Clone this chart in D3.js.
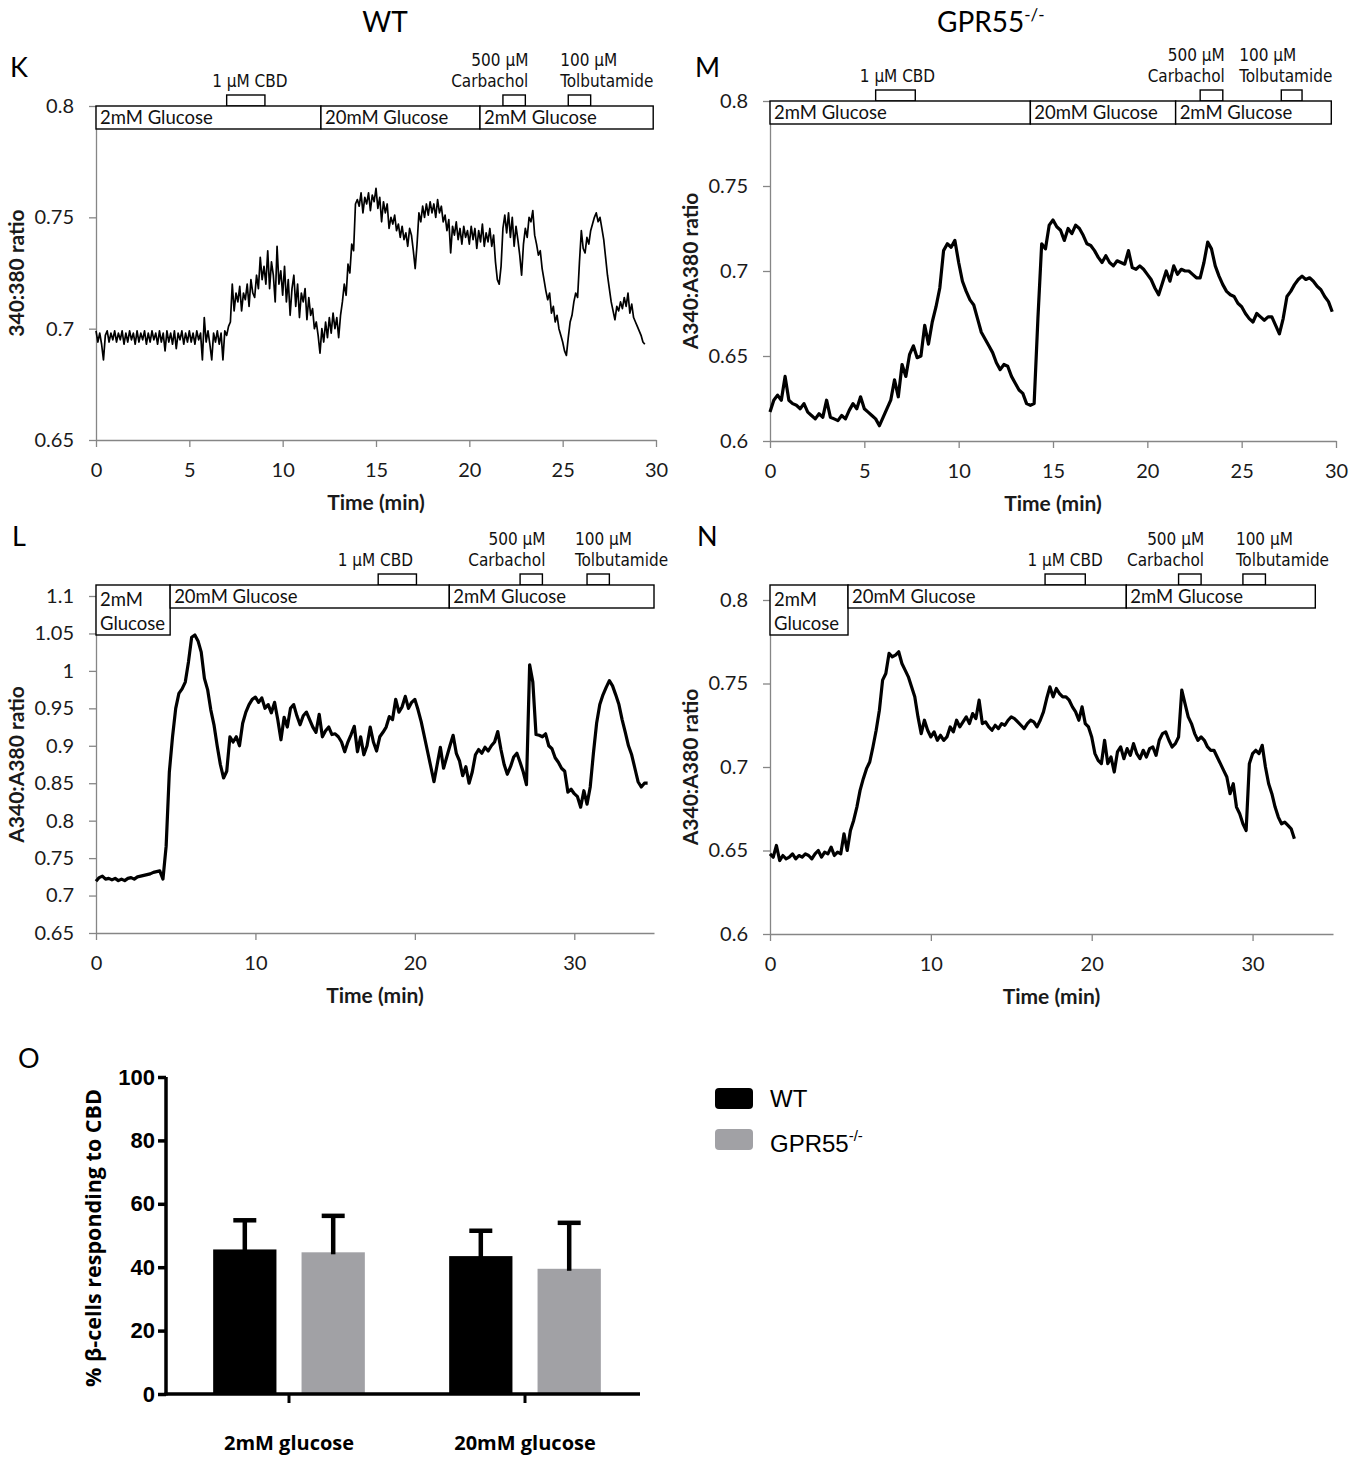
<!DOCTYPE html>
<html><head><meta charset="utf-8">
<script src="https://cdn.jsdelivr.net/npm/d3@7"></script>
<style>body{margin:0;background:#fff;}svg{display:block;}</style>
</head><body>
<svg id="chart" width="1365" height="1459"></svg>
<script>
// ---------------- DATA ----------------
// Panel K (WT, 2mM start) sampled every 0.1 min
const kStep = 0.1;
const kRatio = [
0.699,0.694,0.698,0.693,0.686,0.697,0.699,0.694,0.698,0.695,
0.699,0.694,0.698,0.695,0.699,0.693,0.698,0.694,0.699,0.695,
0.698,0.693,0.699,0.694,0.698,0.695,0.699,0.693,0.698,0.694,
0.699,0.695,0.698,0.693,0.699,0.694,0.698,0.690,0.699,0.694,
0.698,0.693,0.699,0.691,0.698,0.695,0.699,0.693,0.698,0.694,
0.699,0.694,0.698,0.693,0.699,0.695,0.698,0.686,0.705,0.694,
0.699,0.693,0.686,0.698,0.694,0.699,0.693,0.698,0.686,0.699,
0.697,0.701,0.703,0.720,0.708,0.716,0.712,0.719,0.708,0.716,
0.713,0.720,0.710,0.722,0.716,0.714,0.724,0.718,0.732,0.722,
0.728,0.720,0.735,0.718,0.730,0.724,0.712,0.737,0.720,0.726,
0.715,0.728,0.712,0.722,0.706,0.718,0.724,0.710,0.720,0.705,
0.716,0.712,0.718,0.704,0.714,0.706,0.709,0.700,0.703,0.697,
0.689,0.700,0.694,0.703,0.696,0.705,0.698,0.707,0.700,0.705,
0.696,0.706,0.712,0.720,0.715,0.729,0.725,0.738,0.735,0.756,
0.758,0.755,0.761,0.752,0.759,0.756,0.761,0.753,0.760,0.757,
0.763,0.754,0.759,0.748,0.757,0.752,0.756,0.745,0.750,0.747,
0.751,0.744,0.747,0.741,0.746,0.740,0.743,0.737,0.745,0.742,
0.735,0.727,0.738,0.752,0.748,0.755,0.750,0.756,0.751,0.757,
0.752,0.756,0.750,0.758,0.752,0.755,0.748,0.751,0.744,0.749,
0.734,0.746,0.742,0.748,0.740,0.745,0.738,0.746,0.741,0.744,
0.738,0.746,0.740,0.745,0.736,0.744,0.739,0.747,0.737,0.743,
0.739,0.745,0.737,0.742,0.730,0.722,0.720,0.728,0.745,0.751,
0.743,0.752,0.741,0.750,0.737,0.746,0.740,0.733,0.724,0.738,
0.745,0.741,0.750,0.748,0.753,0.742,0.738,0.733,0.735,0.727,
0.722,0.717,0.713,0.716,0.707,0.710,0.703,0.706,0.700,0.697,
0.694,0.690,0.688,0.696,0.703,0.706,0.712,0.716,0.714,0.730,
0.744,0.736,0.734,0.741,0.738,0.744,0.747,0.750,0.752,0.748,
0.750,0.745,0.740,0.732,0.724,0.718,0.712,0.708,0.704,0.710,
0.708,0.712,0.709,0.714,0.710,0.716,0.707,0.711,0.705,0.703,
0.701,0.699,0.697,0.694,0.693];
const kXTicks = [0,5,10,15,20,25,30];
const kYTicks = [0.65,0.7,0.75,0.8];
const kGlucose = [
  {label:["2mM Glucose"], t0:0, t1:12.05},
  {label:["20mM Glucose"], t0:12.05, t1:20.57},
  {label:["2mM Glucose"], t0:20.57, t1:29.85}];
const kDrugs = [
  {label:["1 µM CBD"], t0:7.0, t1:9.05},
  {label:["500 µM","Carbachol"], t0:21.8, t1:23.0},
  {label:["100 µM","Tolbutamide"], t0:25.3, t1:26.5}];

// Panel M (GPR55-/-, 2mM start) sampled every 0.2 min
const mStep = 0.2;
const mRatio = [
0.617,0.624,0.627,0.624,0.638,0.624,0.622,0.621,0.619,0.622,
0.617,0.615,0.613,0.616,0.614,0.624,0.614,0.613,0.612,0.615,
0.613,0.618,0.622,0.619,0.626,0.619,0.617,0.615,0.613,0.609,
0.614,0.619,0.624,0.636,0.626,0.645,0.638,0.651,0.656,0.649,
0.650,0.668,0.657,0.670,0.679,0.690,0.712,0.716,0.714,0.718,
0.705,0.694,0.688,0.683,0.680,0.672,0.664,0.660,0.656,0.652,
0.646,0.642,0.645,0.644,0.638,0.634,0.630,0.628,0.622,0.621,
0.622,0.672,0.716,0.713,0.727,0.730,0.726,0.724,0.718,0.725,
0.722,0.727,0.725,0.721,0.716,0.715,0.712,0.708,0.705,0.709,
0.705,0.703,0.706,0.705,0.704,0.712,0.702,0.701,0.703,0.701,
0.698,0.695,0.690,0.686,0.693,0.700,0.694,0.703,0.698,0.701,
0.700,0.700,0.698,0.696,0.696,0.705,0.717,0.713,0.703,0.697,
0.692,0.688,0.686,0.685,0.681,0.679,0.675,0.672,0.670,0.675,
0.673,0.671,0.673,0.673,0.668,0.663,0.672,0.685,0.688,0.692,
0.695,0.697,0.695,0.696,0.694,0.691,0.689,0.685,0.682,0.676];
const mXTicks = [0,5,10,15,20,25,30];
const mYTicks = [0.6,0.65,0.7,0.75,0.8];
const mGlucose = [
  {label:["2mM Glucose"], t0:0, t1:13.8},
  {label:["20mM Glucose"], t0:13.8, t1:21.5},
  {label:["2mM Glucose"], t0:21.5, t1:29.75}];
const mDrugs = [
  {label:["1 µM CBD"], t0:5.6, t1:7.7},
  {label:["500 µM","Carbachol"], t0:22.8, t1:24.0},
  {label:["100 µM","Tolbutamide"], t0:27.1, t1:28.2}];

// Panel L (WT, 20mM during CBD) sampled every 0.2 min
const lStep = 0.2;
const lRatio = [
0.719,0.724,0.726,0.722,0.723,0.721,0.723,0.720,0.722,0.720,
0.723,0.724,0.722,0.725,0.726,0.727,0.728,0.729,0.731,0.732,
0.733,0.722,0.766,0.865,0.912,0.950,0.970,0.976,0.985,1.012,
1.045,1.048,1.040,1.025,0.990,0.975,0.948,0.928,0.900,0.875,
0.857,0.866,0.912,0.905,0.912,0.900,0.930,0.945,0.955,0.962,
0.965,0.958,0.964,0.950,0.955,0.944,0.958,0.935,0.908,0.938,
0.925,0.950,0.955,0.940,0.928,0.940,0.945,0.935,0.925,0.918,
0.942,0.912,0.920,0.925,0.915,0.916,0.912,0.905,0.892,0.905,
0.915,0.926,0.892,0.912,0.888,0.900,0.925,0.905,0.893,0.912,
0.918,0.925,0.939,0.935,0.962,0.945,0.952,0.966,0.950,0.958,
0.962,0.948,0.932,0.912,0.892,0.872,0.852,0.875,0.898,0.870,
0.885,0.900,0.914,0.890,0.880,0.860,0.872,0.850,0.865,0.888,
0.895,0.890,0.898,0.893,0.900,0.905,0.919,0.895,0.875,0.862,
0.872,0.885,0.890,0.878,0.865,0.848,1.008,0.985,0.915,0.914,
0.912,0.916,0.900,0.896,0.884,0.878,0.870,0.866,0.838,0.842,
0.836,0.832,0.818,0.840,0.822,0.845,0.890,0.930,0.955,0.968,
0.978,0.987,0.980,0.968,0.955,0.935,0.918,0.900,0.888,0.870,
0.852,0.845,0.850,0.850];
const lXTicks = [0,10,20,30];
const lYTicks = [0.65,0.7,0.75,0.8,0.85,0.9,0.95,1,1.05,1.1];
const lGlucose = [
  {label:["2mM","Glucose"], t0:0, t1:4.65},
  {label:["20mM Glucose"], t0:4.65, t1:22.16},
  {label:["2mM Glucose"], t0:22.16, t1:35.0}];
const lDrugs = [
  {label:["1 µM CBD"], t0:17.7, t1:20.1},
  {label:["500 µM","Carbachol"], t0:26.6, t1:28.0},
  {label:["100 µM","Tolbutamide"], t0:30.8, t1:32.2}];

// Panel N (GPR55-/-, 20mM during CBD) sampled every 0.2 min
const nStep = 0.2;
const nRatio = [
0.648,0.646,0.653,0.644,0.647,0.645,0.646,0.648,0.645,0.647,
0.646,0.648,0.647,0.645,0.648,0.650,0.646,0.649,0.648,0.652,
0.647,0.649,0.648,0.660,0.650,0.662,0.668,0.676,0.686,0.693,
0.699,0.703,0.712,0.722,0.734,0.752,0.756,0.768,0.766,0.767,
0.769,0.762,0.758,0.754,0.748,0.742,0.730,0.720,0.728,0.722,
0.718,0.721,0.716,0.719,0.716,0.718,0.724,0.721,0.728,0.724,
0.727,0.730,0.726,0.732,0.729,0.740,0.726,0.727,0.724,0.722,
0.725,0.723,0.726,0.725,0.728,0.730,0.729,0.727,0.725,0.723,
0.726,0.728,0.727,0.724,0.728,0.733,0.741,0.748,0.742,0.747,
0.744,0.742,0.742,0.740,0.736,0.733,0.728,0.736,0.726,0.724,
0.718,0.708,0.704,0.702,0.716,0.702,0.706,0.697,0.709,0.712,
0.705,0.711,0.707,0.714,0.708,0.705,0.710,0.706,0.711,0.712,
0.707,0.716,0.720,0.721,0.716,0.712,0.714,0.718,0.746,0.738,
0.730,0.726,0.720,0.716,0.718,0.716,0.712,0.710,0.710,0.706,
0.702,0.698,0.694,0.684,0.690,0.676,0.672,0.666,0.662,0.702,
0.708,0.710,0.708,0.713,0.700,0.690,0.684,0.676,0.670,0.666,
0.667,0.665,0.663,0.657];
const nXTicks = [0,10,20,30];
const nYTicks = [0.6,0.65,0.7,0.75,0.8];
const nGlucose = [
  {label:["2mM","Glucose"], t0:0, t1:4.85},
  {label:["20mM Glucose"], t0:4.85, t1:22.15},
  {label:["2mM Glucose"], t0:22.15, t1:33.9}];
const nDrugs = [
  {label:["1 µM CBD"], t0:17.1, t1:19.6},
  {label:["500 µM","Carbachol"], t0:25.4, t1:26.8},
  {label:["100 µM","Tolbutamide"], t0:29.4, t1:30.8}];

// Panel O (bar chart)
const barCategories = ["2mM glucose","20mM glucose"];
const barSeries = ["WT","GPR55"];
const wtMean = [45.6, 43.5];
const wtSem  = [9.2, 8.0];
const koMean = [44.7, 39.5];
const koSem  = [11.5, 14.5];
const barYTicks = [0,20,40,60,80,100];

// ---------------- LAYOUT / STYLE ----------------
const svg = d3.select('#chart');
const CAL = "Lato, 'Open Sans', sans-serif";
const NARROW = "'Liberation Sans Narrow','DejaVu Sans Condensed','Arial Narrow',sans-serif";
const ARIAL = "'Liberation Sans', Arial, sans-serif";
const OPEN = "'Open Sans', 'Noto Sans', sans-serif";

const layoutK = {left:96,right:656,top:106,bottom:440,boxTop:106,lineW:1.7,letter:'K',letterX:10,letterY:77,yTitle:'340:380 ratio',
  drugLab:[{a:'middle',dx:4},{a:'end',dx:3},{a:'start',dx:-8}]};
const layoutM = {left:770,right:1336,top:101,bottom:441,boxTop:101,lineW:3.2,letter:'M',letterX:695,letterY:77,yTitle:'A340:A380 ratio',
  drugLab:[{a:'middle',dx:2},{a:'end',dx:2},{a:'start',dx:-42}]};
const layoutL = {left:96,right:654,top:596,bottom:933,boxTop:585,lineW:3.2,letter:'L',letterX:12,letterY:546,yTitle:'A340:A380 ratio',
  drugLab:[{a:'middle',dx:-22},{a:'end',dx:3},{a:'start',dx:-12}]};
const layoutN = {left:770,right:1333,top:600,bottom:934,boxTop:585,lineW:3.2,letter:'N',letterX:697,letterY:546,yTitle:'A340:A380 ratio',
  drugLab:[{a:'middle',dx:0},{a:'end',dx:3},{a:'start',dx:-7}]};

function tracePanel(cfg, values, step, xDom, yDom, xTicks, yTicks, glucose, drugs) {
  const g = svg.append('g');
  const x = d3.scaleLinear().domain(xDom).range([cfg.left, cfg.right]);
  const y = d3.scaleLinear().domain(yDom).range([cfg.bottom, cfg.top]);

  const ya = g.append('g').attr('transform', `translate(${cfg.left},0)`)
    .call(d3.axisLeft(y).tickValues(yTicks).tickFormat(d => String(d)).tickSize(7).tickSizeOuter(0).tickPadding(15));
  const xa = g.append('g').attr('transform', `translate(0,${cfg.bottom})`)
    .call(d3.axisBottom(x).tickValues(xTicks).tickFormat(d => String(d)).tickSize(7).tickSizeOuter(0).tickPadding(16));
  [ya, xa].forEach(a => {
    a.selectAll('path,line').attr('stroke', '#868686').attr('stroke-width', 1.3);
    a.selectAll('text').attr('font-family', CAL).attr('font-size', 20).attr('fill', '#1a1a1a');
  });

  const pts = values.map((v, i) => [i * step, v]);
  g.append('path').datum(pts)
    .attr('d', d3.line().x(d => x(d[0])).y(d => y(d[1])))
    .attr('fill', 'none').attr('stroke', '#000')
    .attr('stroke-width', cfg.lineW).attr('stroke-linejoin', 'round');

  // drug application boxes + labels
  drugs.forEach((d, i) => {
    g.append('rect').attr('x', x(d.t0)).attr('y', cfg.boxTop - 11)
      .attr('width', x(d.t1) - x(d.t0)).attr('height', 11)
      .attr('fill', '#fff').attr('stroke', '#000').attr('stroke-width', 1.4);
    const lay = cfg.drugLab[i];
    const ax = lay.a === 'middle' ? (x(d.t0) + x(d.t1)) / 2 : (lay.a === 'end' ? x(d.t1) : x(d.t0));
    d.label.forEach((ln, j) => {
      g.append('text').attr('x', ax + lay.dx)
        .attr('y', cfg.boxTop - 19 - (d.label.length - 1 - j) * 21)
        .attr('text-anchor', lay.a).attr('font-family', NARROW)
        .attr('font-size', 17).attr('fill', '#111').text(ln);
    });
  });

  // glucose boxes
  glucose.forEach(s => {
    const multi = s.label.length > 1;
    g.append('rect').attr('x', x(s.t0)).attr('y', cfg.boxTop)
      .attr('width', x(s.t1) - x(s.t0)).attr('height', multi ? 50 : 23)
      .attr('fill', '#fff').attr('stroke', '#000').attr('stroke-width', 1.4);
    s.label.forEach((ln, j) => {
      g.append('text').attr('x', x(s.t0) + 4)
        .attr('y', cfg.boxTop + (multi ? 21 + 24 * j : 18))
        .attr('font-family', CAL).attr('font-size', 18.5).attr('fill', '#111').text(ln);
    });
  });

  // titles
  g.append('text')
    .attr('transform', `translate(${cfg.left - 79},${(cfg.top + cfg.bottom) / 2}) rotate(-90)`)
    .attr('text-anchor', 'middle').attr('dy', '0.35em')
    .attr('font-family', CAL).attr('font-weight', 'bold').attr('font-size', 21).attr('fill', '#1a1a1a')
    .text(cfg.yTitle);
  g.append('text').attr('x', (cfg.left + cfg.right) / 2).attr('y', cfg.bottom + 70)
    .attr('text-anchor', 'middle').attr('font-family', CAL).attr('font-weight', 'bold')
    .attr('font-size', 21).attr('fill', '#1a1a1a').text('Time (min)');
  g.append('text').attr('x', cfg.letterX).attr('y', cfg.letterY)
    .attr('font-family', CAL).attr('font-size', 27).attr('fill', '#000').text(cfg.letter);
}

tracePanel(layoutK, kRatio, kStep, [0, 30], [0.65, 0.8], kXTicks, kYTicks, kGlucose, kDrugs);
tracePanel(layoutM, mRatio, mStep, [0, 30], [0.6, 0.8], mXTicks, mYTicks, mGlucose, mDrugs);
tracePanel(layoutL, lRatio, lStep, [0, 35], [0.65, 1.1], lXTicks, lYTicks, lGlucose, lDrugs);
tracePanel(layoutN, nRatio, nStep, [0, 35], [0.6, 0.8], nXTicks, nYTicks, nGlucose, nDrugs);

// column titles
svg.append('text').attr('x', 385).attr('y', 32).attr('text-anchor', 'middle')
  .attr('font-family', CAL).attr('font-size', 28).attr('fill', '#000').text('WT');
const gt = svg.append('text').attr('x', 937).attr('y', 32)
  .attr('font-family', CAL).attr('font-size', 28).attr('fill', '#000');
gt.append('tspan').text('GPR55');
gt.append('tspan').attr('font-size', 17).attr('dy', -11).text('-/-');

// ---------------- PANEL O ----------------
const gO = svg.append('g');
const yO = d3.scaleLinear().domain([0, 100]).range([1394, 1077]);
const xO = d3.scaleBand().domain(barCategories).range([171, 643]);
const xSub = d3.scaleBand().domain(barSeries).range([0, xO.bandwidth()]).paddingInner(0.284).paddingOuter(0.477);
const barColor = {WT: '#000000', GPR55: '#a1a1a5'};
const seriesData = {WT: {m: wtMean, s: wtSem}, GPR55: {m: koMean, s: koSem}};

barCategories.forEach((c, i) => {
  barSeries.forEach(sr => {
    const m = seriesData[sr].m[i], s = seriesData[sr].s[i];
    const bx = xO(c) + xSub(sr), bw = xSub.bandwidth(), cx = bx + bw / 2;
    gO.append('rect').attr('x', bx).attr('y', yO(m)).attr('width', bw)
      .attr('height', yO(0) - yO(m)).attr('fill', barColor[sr]);
    gO.append('line').attr('x1', cx).attr('x2', cx).attr('y1', yO(m) + 2).attr('y2', yO(m + s))
      .attr('stroke', '#000').attr('stroke-width', 4.5);
    gO.append('line').attr('x1', cx - 11.5).attr('x2', cx + 11.5).attr('y1', yO(m + s)).attr('y2', yO(m + s))
      .attr('stroke', '#000').attr('stroke-width', 4.5);
  });
});

const yAxO = gO.append('g').attr('transform', 'translate(166,0)')
  .call(d3.axisLeft(yO).tickValues(barYTicks).tickSize(8).tickSizeOuter(0).tickPadding(3));
yAxO.select('.domain').attr('stroke', '#000').attr('stroke-width', 3.5).attr('d', 'M0,1395.5V1077');
yAxO.selectAll('line').attr('stroke', '#000').attr('stroke-width', 3.5);
yAxO.selectAll('text').attr('font-family', ARIAL).attr('font-weight', 'bold').attr('font-size', 22).attr('fill', '#000');

const xAxO = gO.append('g').attr('transform', 'translate(0,1394)')
  .call(d3.axisBottom(xO).tickSize(9).tickSizeOuter(0).tickPadding(33));
xAxO.select('.domain').attr('stroke', '#000').attr('stroke-width', 3.5).attr('d', 'M164.5,0H640');
xAxO.selectAll('line').attr('stroke', '#000').attr('stroke-width', 3);
xAxO.selectAll('text').attr('font-family', OPEN).attr('font-weight', 'bold').attr('font-size', 20).attr('fill', '#000');

gO.append('text')
  .attr('transform', 'translate(93,1238) rotate(-90)')
  .attr('text-anchor', 'middle').attr('dy', '0.35em')
  .attr('font-family', OPEN).attr('font-weight', 'bold').attr('font-size', 21.5).attr('fill', '#000')
  .text('% β-cells responding to CBD');
gO.append('text').attr('x', 18).attr('y', 1068).attr('font-family', CAL).attr('font-size', 27).attr('fill', '#000').text('O');

// legend
const legend = gO.append('g');
barSeries.forEach((sr, i) => {
  legend.append('rect').attr('x', 715).attr('y', 1088 + i * 41).attr('width', 38).attr('height', 21)
    .attr('rx', 4).attr('fill', barColor[sr]);
  const t = legend.append('text').attr('x', 770).attr('y', 1107 + i * 45)
    .attr('font-family', ARIAL).attr('font-size', 24).attr('fill', '#000');
  t.append('tspan').text(sr === 'WT' ? 'WT' : 'GPR55');
  if (sr !== 'WT') t.append('tspan').attr('font-size', 15).attr('dy', -11).text('-/-');
});
</script>
</body></html>
